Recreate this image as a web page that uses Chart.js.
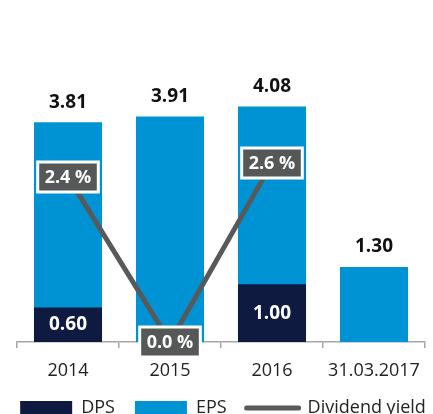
<!DOCTYPE html>
<html>
<head>
<meta charset="utf-8">
<script src="https://cdn.jsdelivr.net/npm/chart.js@4"></script>
<style>
  html, body { margin: 0; padding: 0; overflow: hidden; background: #fff; }
  canvas { display: block; }
</style>
</head>
<body>
<canvas id="chart" width="446" height="427"></canvas>
<script>
const categories = ["2014", "2015", "2016", "31.03.2017"];
const dpsValues = [0.60, null, 1.00, null];
const epsValues = [3.81, 3.91, 4.08, 1.30];
const yieldValues = [2.4, 0.0, 2.6, null];

const FONT = "'Open Sans', sans-serif";
const navy = "#0e1a40";
const blue = "#0093d3";
const grey = "#58595b";

// labels on bars and the yield boxes
const valueLabels = {
  id: "valueLabels",
  afterDatasetsDraw(chart) {
    const ctx = chart.ctx;
    ctx.save();
    ctx.textAlign = "center";
    ctx.textBaseline = "middle";

    ctx.font = "bold 19px " + FONT;
    chart.getDatasetMeta(1).data.forEach((bar, i) => {
      if (epsValues[i] == null) return;
      ctx.fillStyle = "#111";
      ctx.fillText(epsValues[i].toFixed(2), bar.x, bar.y - 20);
    });

    chart.getDatasetMeta(0).data.forEach((bar, i) => {
      if (dpsValues[i] == null) return;
      ctx.fillStyle = "#fff";
      ctx.fillText(dpsValues[i].toFixed(2), bar.x, (bar.y + bar.base) / 2);
    });

    ctx.font = "bold 18px " + FONT;
    chart.getDatasetMeta(2).data.forEach((pt, i) => {
      if (yieldValues[i] == null) return;
      const txt = yieldValues[i].toFixed(1) + " %";
      const w = ctx.measureText(txt).width + 14;
      const h = 30;
      ctx.fillStyle = "#555856";
      ctx.strokeStyle = "#fff";
      ctx.lineWidth = 3;
      ctx.beginPath();
      ctx.rect(pt.x - w / 2, pt.y - h / 2, w, h);
      ctx.fill();
      ctx.stroke();
      ctx.fillStyle = "#fff";
      ctx.fillText(txt, pt.x, pt.y + 1);
    });
    ctx.restore();
  }
};

// hidden axes that only reserve side space
function blankAxis(width, extra) {
  return Object.assign({
    display: true,
    ticks: { display: false },
    grid: { display: false },
    border: { display: false },
    afterFit(scale) { scale.width = width; }
  }, extra);
}

new Chart(document.getElementById("chart"), {
  type: "bar",
  data: {
    labels: categories,
    datasets: [
      {
        label: "DPS",
        data: dpsValues,
        backgroundColor: navy,
        order: 1
      },
      {
        label: "EPS",
        data: epsValues,
        backgroundColor: blue,
        order: 2
      },
      {
        type: "line",
        label: "Dividend yield",
        data: yieldValues,
        yAxisID: "y2",
        borderColor: grey,
        backgroundColor: grey,
        borderWidth: 5,
        pointRadius: 0,
        tension: 0,
        order: 0
      }
    ]
  },
  options: {
    responsive: false,
    animation: false,
    layout: { padding: 0 },
    datasets: {
      bar: { barPercentage: 0.667, categoryPercentage: 1, borderWidth: 0 }
    },
    plugins: {
      tooltip: { enabled: false },
      legend: {
        position: "bottom",
        labels: {
          usePointStyle: true,
          pointStyleWidth: 52,
          boxHeight: 14,
          padding: 20,
          color: "#222",
          font: { family: FONT, size: 18 },
          generateLabels(chart) {
            const items = Chart.defaults.plugins.legend.labels.generateLabels(chart);
            items.forEach(it => {
              if (it.datasetIndex === 2) {
                it.pointStyle = "line";
                it.lineWidth = 5;
                it.lineCap = "round";
                it.strokeStyle = grey;
              } else {
                it.pointStyle = "rect";
                it.lineWidth = 0;
              }
            });
            return items.sort((a, b) => a.datasetIndex - b.datasetIndex);
          }
        }
      }
    },
    scales: {
      x: {
        stacked: true,
        offset: true,
        afterFit(scale) { scale.height = 37; },
        grid: {
          display: true,
          drawOnChartArea: false,
          drawTicks: true,
          tickLength: 6,
          offset: true,
          color: "#a6a6a6",
          lineWidth: 1.5
        },
        border: { color: "#a6a6a6", width: 1.5 },
        ticks: {
          color: "#222",
          padding: 14,
          font: { family: FONT, size: 18, lineHeight: 1 }
        }
      },
      y: blankAxis(17, { position: "left", stacked: false, min: 0, max: 5.927 }),
      y2: blankAxis(21, { position: "right", min: 0, max: 4.971 })
    }
  },
  plugins: [valueLabels]
});
</script>
</body>
</html>
